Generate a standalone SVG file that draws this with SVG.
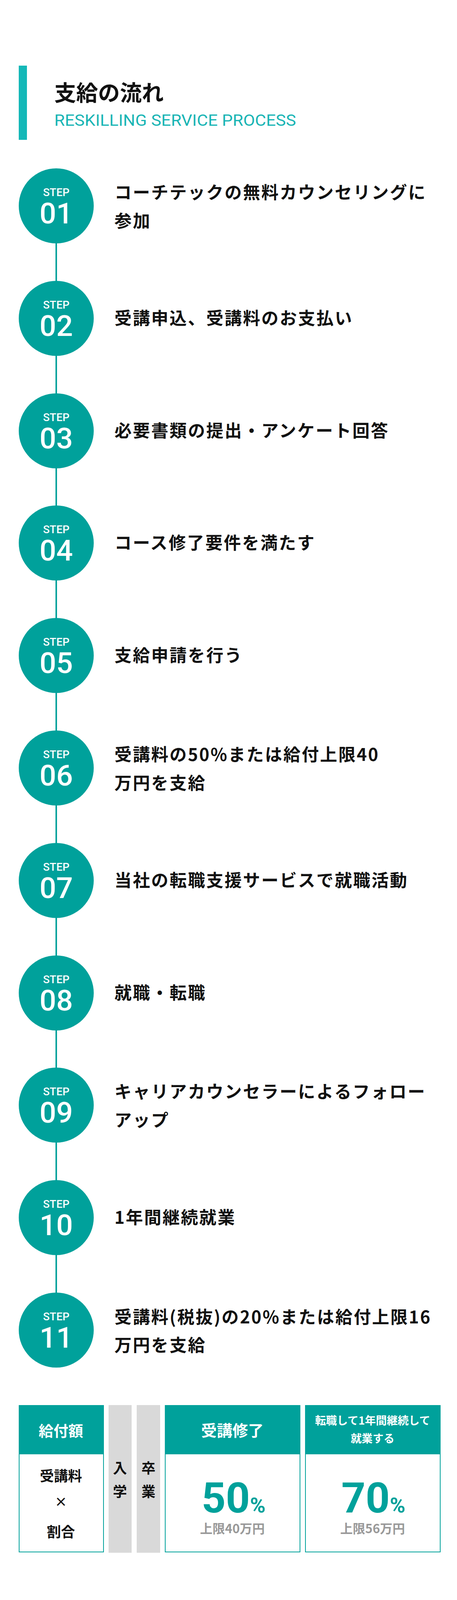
<svg xmlns="http://www.w3.org/2000/svg" width="1170" height="4143" viewBox="0 0 1170 4143">
<style>
.jp{font-family:"Noto Sans CJK JP","Noto Sans",sans-serif;font-weight:700}
.st{font-family:Roboto,"Liberation Sans",sans-serif;fill:#fff;text-anchor:middle;font-weight:500}
.lbl{font-family:"Noto Sans CJK JP",sans-serif;font-weight:700;font-size:44px;letter-spacing:3px;fill:#111}
.c{fill:#00a19b}
.w{fill:#fff}
.mid{text-anchor:middle}
</style>
<rect width="1170" height="4143" fill="#fff"/>
<g id="header">
<rect x="48" y="168" width="21" height="190" fill="#14b8b8"/>
<text x="139" y="258" class="jp" font-size="56" fill="#111">支給の流れ</text>
<text x="139" y="322" font-family="Roboto,'Liberation Sans',sans-serif" font-size="40" fill="#1ab5b5" textLength="619" lengthAdjust="spacingAndGlyphs">RESKILLING SERVICE PROCESS</text>
</g>
<g id="connectors">
<rect x="142" y="527" width="4" height="2878" class="c"/>
</g>
<g id="s1"><circle cx="144" cy="527" r="96" class="c"/><text x="144" y="502" class="st" font-size="28">STEP</text><text x="144" y="572" class="st" font-size="75">01</text><text x="293" y="509" class="lbl">コーチテックの無料カウンセリングに</text><text x="293" y="582" class="lbl">参加</text></g>
<g id="s2"><circle cx="144" cy="815" r="96" class="c"/><text x="144" y="790" class="st" font-size="28">STEP</text><text x="144" y="860" class="st" font-size="75">02</text><text x="293" y="831" class="lbl">受講申込、受講料のお支払い</text></g>
<g id="s3"><circle cx="144" cy="1103" r="96" class="c"/><text x="144" y="1078" class="st" font-size="28">STEP</text><text x="144" y="1148" class="st" font-size="75">03</text><text x="293" y="1119" class="lbl">必要書類の提出・アンケート回答</text></g>
<g id="s4"><circle cx="144" cy="1390" r="96" class="c"/><text x="144" y="1365" class="st" font-size="28">STEP</text><text x="144" y="1435" class="st" font-size="75">04</text><text x="293" y="1406" class="lbl">コース修了要件を満たす</text></g>
<g id="s5"><circle cx="144" cy="1678" r="96" class="c"/><text x="144" y="1653" class="st" font-size="28">STEP</text><text x="144" y="1723" class="st" font-size="75">05</text><text x="293" y="1694" class="lbl">支給申請を行う</text></g>
<g id="s6"><circle cx="144" cy="1966" r="96" class="c"/><text x="144" y="1941" class="st" font-size="28">STEP</text><text x="144" y="2011" class="st" font-size="75">06</text><text x="293" y="1948" class="lbl">受講料の50%または給付上限40</text><text x="293" y="2021" class="lbl">万円を支給</text></g>
<g id="s7"><circle cx="144" cy="2254" r="96" class="c"/><text x="144" y="2229" class="st" font-size="28">STEP</text><text x="144" y="2299" class="st" font-size="75">07</text><text x="293" y="2270" class="lbl">当社の転職支援サービスで就職活動</text></g>
<g id="s8"><circle cx="144" cy="2542" r="96" class="c"/><text x="144" y="2517" class="st" font-size="28">STEP</text><text x="144" y="2587" class="st" font-size="75">08</text><text x="293" y="2558" class="lbl">就職・転職</text></g>
<g id="s9"><circle cx="144" cy="2829" r="96" class="c"/><text x="144" y="2804" class="st" font-size="28">STEP</text><text x="144" y="2874" class="st" font-size="75">09</text><text x="293" y="2811" class="lbl">キャリアカウンセラーによるフォロー</text><text x="293" y="2884" class="lbl">アップ</text></g>
<g id="s10"><circle cx="144" cy="3117" r="96" class="c"/><text x="144" y="3092" class="st" font-size="28">STEP</text><text x="144" y="3162" class="st" font-size="75">10</text><text x="293" y="3133" class="lbl">1年間継続就業</text></g>
<g id="s11"><circle cx="144" cy="3405" r="96" class="c"/><text x="144" y="3380" class="st" font-size="28">STEP</text><text x="144" y="3450" class="st" font-size="75">11</text><text x="293" y="3388" class="lbl">受講料(税抜)の20%または給付上限16</text><text x="293" y="3460" class="lbl">万円を支給</text></g>
<g id="table">
<rect x="49" y="3598" width="216" height="375" fill="#fff" stroke="#00a19b" stroke-width="2"/>
<rect x="48" y="3597" width="218" height="126" class="c"/>
<text x="156" y="3677" class="jp mid w" font-size="38">給付額</text>
<text x="156" y="3792" class="jp mid" font-size="36" fill="#111">受講料</text>
<text x="156" y="3857" class="jp mid" font-size="32" fill="#111" font-weight="400">×</text>
<text x="156" y="3935" class="jp mid" font-size="36" fill="#111">割合</text>
<rect x="278" y="3597" width="59" height="378" fill="#d9d9d9"/>
<rect x="350" y="3597" width="60" height="378" fill="#d9d9d9"/>
<text x="307" y="3772" class="jp mid" font-size="36" fill="#111">入</text>
<text x="307" y="3832" class="jp mid" font-size="36" fill="#111">学</text>
<text x="380" y="3772" class="jp mid" font-size="36" fill="#111">卒</text>
<text x="380" y="3832" class="jp mid" font-size="36" fill="#111">業</text>
<rect x="423" y="3598" width="345" height="375" fill="#fff" stroke="#00a19b" stroke-width="2"/>
<rect x="422" y="3597" width="347" height="126" class="c"/>
<text x="595" y="3677" class="jp mid w" font-size="40">受講修了</text>
<text x="598" y="3872" class="mid" font-family="Roboto,sans-serif" font-weight="700" fill="#00a19b"><tspan font-size="108">50</tspan><tspan font-size="54">%</tspan></text>
<text x="595" y="3925" class="jp mid" font-size="32" fill="#999" font-weight="500">上限40万円</text>
<rect x="782" y="3598" width="345" height="375" fill="#fff" stroke="#00a19b" stroke-width="2"/>
<rect x="781" y="3597" width="347" height="126" class="c"/>
<text x="954" y="3647" class="jp mid w" font-size="28">転職して1年間継続して</text>
<text x="954" y="3693" class="jp mid w" font-size="28">就業する</text>
<text x="956" y="3872" class="mid" font-family="Roboto,sans-serif" font-weight="700" fill="#00a19b"><tspan font-size="108">70</tspan><tspan font-size="54">%</tspan></text>
<text x="954" y="3925" class="jp mid" font-size="32" fill="#999" font-weight="500">上限56万円</text>
</g>
</svg>
